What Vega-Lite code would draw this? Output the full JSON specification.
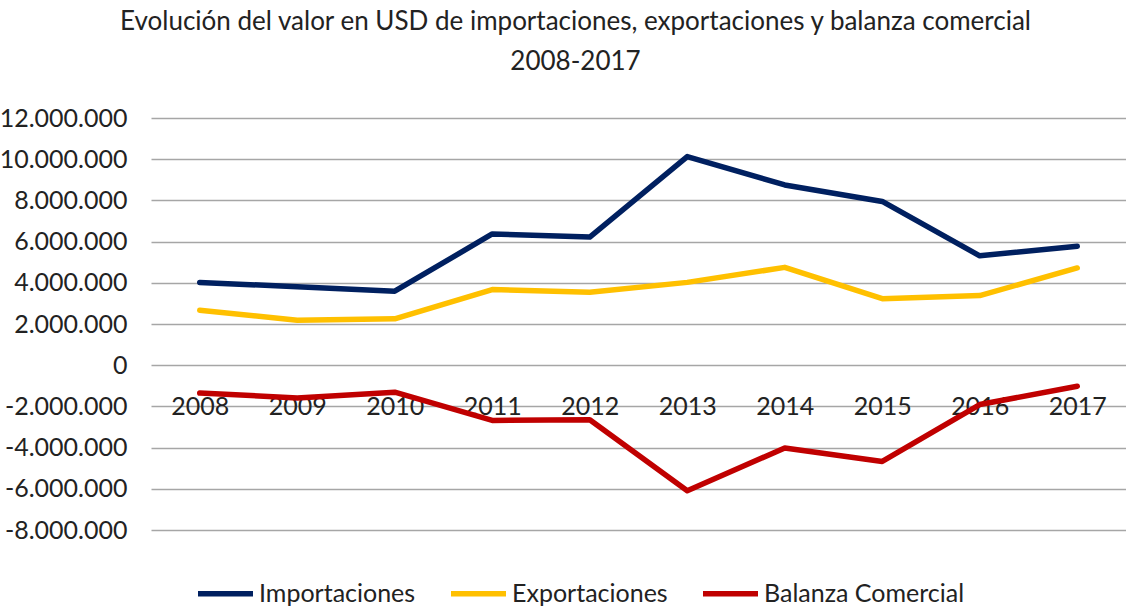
{
  "$schema": "https://vega.github.io/schema/vega-lite/v6.json",
  "width": 975,
  "height": 412,
  "autosize": {"type": "none"},
  "padding": {"left": 151, "top": 118, "right": 0, "bottom": 77},
  "background": "white",
  "title": {
    "text": ["Evolución del valor en USD de importaciones, exportaciones y balanza comercial", "2008-2017"],
    "fontSize": 26,
    "font": "Lato",
    "fontWeight": "normal",
    "color": "#222222",
    "lineHeight": 40,
    "anchor": "middle",
    "frame": "group",
    "dx": -63,
    "offset": 31
  },
  "config": {
    "locale": {"number": {"decimal": ",", "thousands": ".", "grouping": [3], "currency": ["", ""], "minus": "-"}},
    "view": {"stroke": null},
    "font": "Lato"
  },
  "data": {
    "values": [
      {"year": "2008", "serie": "Importaciones", "valor": 4020000},
      {"year": "2009", "serie": "Importaciones", "valor": 3810000},
      {"year": "2010", "serie": "Importaciones", "valor": 3590000},
      {"year": "2011", "serie": "Importaciones", "valor": 6370000},
      {"year": "2012", "serie": "Importaciones", "valor": 6220000},
      {"year": "2013", "serie": "Importaciones", "valor": 10130000},
      {"year": "2014", "serie": "Importaciones", "valor": 8750000},
      {"year": "2015", "serie": "Importaciones", "valor": 7950000},
      {"year": "2016", "serie": "Importaciones", "valor": 5310000},
      {"year": "2017", "serie": "Importaciones", "valor": 5770000},
      {"year": "2008", "serie": "Exportaciones", "valor": 2670000},
      {"year": "2009", "serie": "Exportaciones", "valor": 2180000},
      {"year": "2010", "serie": "Exportaciones", "valor": 2250000},
      {"year": "2011", "serie": "Exportaciones", "valor": 3670000},
      {"year": "2012", "serie": "Exportaciones", "valor": 3540000},
      {"year": "2013", "serie": "Exportaciones", "valor": 4020000},
      {"year": "2014", "serie": "Exportaciones", "valor": 4750000},
      {"year": "2015", "serie": "Exportaciones", "valor": 3230000},
      {"year": "2016", "serie": "Exportaciones", "valor": 3380000},
      {"year": "2017", "serie": "Exportaciones", "valor": 4720000},
      {"year": "2008", "serie": "Balanza Comercial", "valor": -1350000},
      {"year": "2009", "serie": "Balanza Comercial", "valor": -1590000},
      {"year": "2010", "serie": "Balanza Comercial", "valor": -1310000},
      {"year": "2011", "serie": "Balanza Comercial", "valor": -2680000},
      {"year": "2012", "serie": "Balanza Comercial", "valor": -2650000},
      {"year": "2013", "serie": "Balanza Comercial", "valor": -6090000},
      {"year": "2014", "serie": "Balanza Comercial", "valor": -4020000},
      {"year": "2015", "serie": "Balanza Comercial", "valor": -4670000},
      {"year": "2016", "serie": "Balanza Comercial", "valor": -1910000},
      {"year": "2017", "serie": "Balanza Comercial", "valor": -1020000}
    ]
  },
  "mark": {"type": "line", "strokeWidth": 5.5, "strokeCap": "round", "strokeJoin": "round"},
  "encoding": {
    "x": {
      "field": "year",
      "type": "ordinal",
      "scale": {"type": "point", "padding": 0.5},
      "axis": {
        "title": null,
        "orient": "bottom",
        "offset": -116,
        "labelAngle": 0,
        "labelBaseline": "alphabetic",
        "labelPadding": 0,
        "ticks": false,
        "tickSize": 0,
        "domain": false,
        "grid": false,
        "labelFontSize": 25,
        "labelColor": "#222222",
        "labelFont": "Lato"
      }
    },
    "y": {
      "field": "valor",
      "type": "quantitative",
      "scale": {"domain": [-8000000, 12000000], "nice": false},
      "axis": {
        "title": null,
        "values": [-8000000, -6000000, -4000000, -2000000, 0, 2000000, 4000000, 6000000, 8000000, 10000000, 12000000],
        "format": ",.0f",
        "ticks": false,
        "tickSize": 0,
        "domain": false,
        "labelPadding": 24,
        "labelFontSize": 25,
        "labelColor": "#222222",
        "labelFont": "Lato",
        "gridColor": "#A6A6A6",
        "gridWidth": 1.5
      }
    },
    "color": {
      "field": "serie",
      "type": "nominal",
      "scale": {"domain": ["Importaciones", "Exportaciones", "Balanza Comercial"], "range": ["#002060", "#FFC000", "#C00000"]},
      "legend": {
        "title": null,
        "orient": "none",
        "direction": "horizontal",
        "legendX": 44,
        "legendY": 445,
        "symbolType": "stroke",
        "symbolSize": 3025,
        "symbolStrokeWidth": 5.5,
        "labelFontSize": 25,
        "labelFont": "Lato",
        "labelColor": "#222222",
        "labelOffset": 3,
        "labelLimit": 400,
        "columnPadding": 24
      }
    }
  }
}
